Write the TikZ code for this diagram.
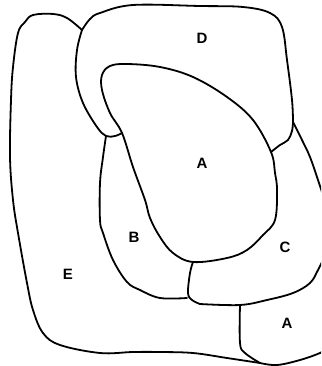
\documentclass[tikz,border=0pt]{standalone}
\usepackage{fontspec}
\setmainfont{Liberation Sans}
\begin{document}
\begin{tikzpicture}[x=1pt,y=-1pt,
  edge/.style={line width=1.8pt,line cap=round,line join=round},
  lbl/.style={font=\fontsize{15}{15}\selectfont\bfseries,inner sep=0pt}]
\useasboundingbox (0,0) rectangle (321,366);
\clip (0,0) rectangle (321,366);
% junctions
\coordinate (jDE) at (82,30);
\coordinate (jDA) at (122,133);
\coordinate (jDB) at (106,136);
\coordinate (jAC) at (271,152);
\coordinate (jDC) at (293,122);
\coordinate (jABC) at (193,262);
\coordinate (jBC) at (200,304);
\coordinate (jCA) at (240,305);
\coordinate (jEA) at (260,363);
% E outer
\draw[edge] plot[smooth,tension=0.6] coordinates {(jDE) (67,18) (53,14) (33,15) (25,22) (18,33) (13,67) (11,100) (10,157) (13,200) (18,233) (27,283) (33,310) (43,333) (60,345) (100,353) (133,352) (160,352) (193,353) (227,358) (jEA)};
\draw[edge] plot[smooth,tension=0.6] coordinates {(jEA) (277,365) (300,360) (320,353) (328,348)};
% D
\draw[edge] plot[smooth,tension=0.6] coordinates {(jDE) (90,19) (100,13) (133,5) (200,6) (243,7) (270,13) (282,27) (287,60) (292,100) (jDC)};
\draw[edge] plot[smooth,tension=0.6] coordinates {(jDE) (77,50) (76,77) (83,103) (97,127) (jDB) (115,136) (jDA)};
\draw[edge] plot[smooth,tension=0.6] coordinates {(jAC) (280,145) (288,140) (292,131) (jDC)};
% A
\draw[edge] plot[smooth cycle,tension=0.6] coordinates {(jABC) (173,253) (160,237) (150,218) (145,200) (133,167) (jDA) (110,113) (102,90) (102,75) (110,66) (127,64) (160,67) (193,77) (227,97) (253,120) (jAC) (275,173) (277,190) (275,220) (263,235) (247,250) (227,258)};
% C
\draw[edge] plot[smooth,tension=0.6] coordinates {(jDC) (302,140) (310,157) (318,180) (324,198)};
\draw[edge] plot[smooth,tension=0.6] coordinates {(jBC) (jCA) (267,300) (293,293) (310,283) (318,270) (324,258)};
% B
\draw[edge] plot[smooth,tension=0.6] coordinates {(jDB) (103,157) (100,183) (100,220) (103,233) (113,260) (127,282) (140,290) (160,298) (187,298)};
\draw[edge] plot[smooth,tension=0.6] coordinates {(jABC) (190,273) (188,293) (192,300) (jBC)};
% A lower
\draw[edge] plot[smooth,tension=0.6] coordinates {(jCA) (240,343) (245,353) (jEA)};
% labels
\node[lbl] (labD) at (202,38) {D};
\node[lbl] (labA) at (202,163) {A};
\node[lbl] (labB) at (134,237) {B};
\node[lbl] (labC) at (285,247) {C};
\node[lbl] (labE) at (68,274) {E};
\node[lbl] (labA2) at (287,323) {A};
\end{tikzpicture}
\end{document}
